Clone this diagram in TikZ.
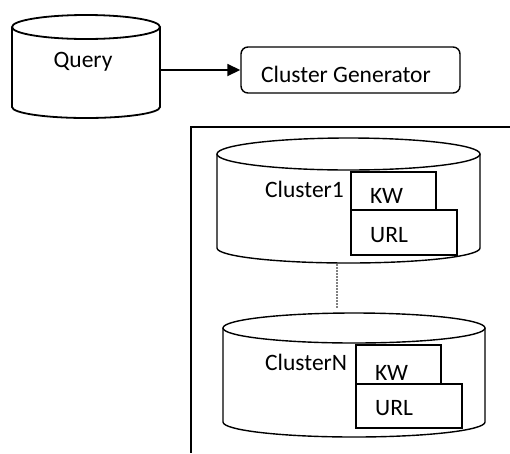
\documentclass[tikz,border=0pt]{standalone}
\usepackage{fontspec}
\setmainfont{Carlito}
\usetikzlibrary{arrows.meta}
\begin{document}
\begin{tikzpicture}[x=1pt,y=-1pt,
  font=\fontsize{23.5}{28}\selectfont,
  drum/.style={draw=black, line width=1.4pt, fill=white},
  drumbold/.style={draw=black, line width=1.8pt, fill=white},
  field/.style={draw=black, line width=1.4pt, fill=white, rectangle, inner sep=0pt},
  label/.style={inner sep=0pt, anchor=base west},
  hidden/.style={inner sep=0pt, rectangle},
  flow/.style={line width=1.8pt, -{Triangle[length=13pt,width=12pt]}},
  link/.style={draw=gray, line width=1.2pt, dash pattern=on 2pt off 1pt},
  frame/.style={line width=1.4pt}]
\useasboundingbox (0,0) rectangle (510,453);

% query store
\draw[drumbold] (12,27) -- (12,107) arc[start angle=180, end angle=0, x radius=74, y radius=11] -- (160,27);
\draw[drumbold] (86,27) ellipse [x radius=74, y radius=12];
\node[hidden, minimum width=148, minimum height=80] (query) at (86,67) {};
\node[label, anchor=base] (querytext) at (83,67) {Query};

% generator
\node[draw=black, line width=1.4pt, rounded corners=7pt, minimum width=219, minimum height=46, inner sep=0pt] (gen) at (350.5,70) {};
\node[label] (gentext) at (261,82) {Cluster Generator};
\draw[flow] (query.east |- gen.west) -- (gen.west);

% container frame
\coordinate (frameTL) at (191,127);
\coordinate (frameTR) at (510,127);
\coordinate (frameBL) at (191,453);
\draw[frame] (frameTR) -- (frameTL) -- (frameBL);

% first cluster
\draw[drum] (217,154) -- (217,248) arc[start angle=180, end angle=0, x radius=131.5, y radius=15] -- (480,154);
\draw[drum] (348.5,154) ellipse [x radius=131.5, y radius=16];
\node[label] (c1text) at (265,197) {Cluster1};
\node[field, minimum width=85, minimum height=38] (kw1) at (393.5,191) {};
\node[label] (kw1text) at (370,203) {KW};
\node[field, minimum width=106, minimum height=45] (url1) at (404,232.5) {};
\node[label] (url1text) at (370,242) {URL};

% last cluster
\draw[drum] (223,328) -- (223,422) arc[start angle=180, end angle=0, x radius=131, y radius=15] -- (485,328);
\draw[drum] (354,328) ellipse [x radius=131, y radius=15];
\node[label] (cNtext) at (265,370) {ClusterN};
\node[field, minimum width=85, minimum height=39] (kwN) at (398.5,364.5) {};
\node[label] (kwNtext) at (375,380) {KW};
\node[field, minimum width=106, minimum height=44] (urlN) at (409,406) {};
\node[label] (urlNtext) at (375,415) {URL};

% ellipsis between clusters
\coordinate (c1bottom) at (337,264);
\coordinate (cNtop) at (337,308);
\draw[link] (c1bottom) -- (cNtop);
\end{tikzpicture}
\end{document}
